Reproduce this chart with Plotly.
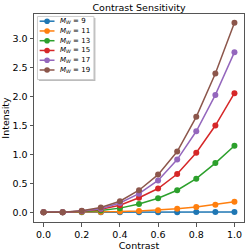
import plotly.graph_objects as go

contrast = [0.0, 0.1, 0.2, 0.3, 0.4, 0.5, 0.6, 0.7, 0.8, 0.9, 1.0]
labels = ["9", "11", "13", "15", "17", "19"]
mw9 = [0, 0, 0, 0, 0, 0, 0, 0, 0.001, 0.001, 0.002]
mw11 = [0, 0, 0.001, 0.004, 0.01, 0.02, 0.035, 0.06, 0.09, 0.13, 0.18]
mw13 = [0, 0, 0.01, 0.03, 0.07, 0.14, 0.24, 0.38, 0.58, 0.85, 1.15]
mw15 = [0, 0, 0.015, 0.05, 0.12, 0.25, 0.41, 0.66, 1.03, 1.50, 2.06]
mw17 = [0, 0, 0.02, 0.06, 0.16, 0.32, 0.55, 0.91, 1.40, 2.03, 2.77]
mw19 = [0, 0, 0.025, 0.08, 0.19, 0.38, 0.65, 1.05, 1.65, 2.40, 3.28]
series = [mw9, mw11, mw13, mw15, mw17, mw19]
colors = ["#1f77b4", "#ff7f0e", "#2ca02c", "#d62728", "#9467bd", "#8c564b"]

W, H = 249, 252
L, R, T, B = 33, 4, 14, 27
PW, PH = W - L - R, H - T - B

def px(x):
    return (x - L) / PW

def py(y):
    return (H - B - y) / PH

fig = go.Figure()
for lab, ys, c in zip(labels, series, colors):
    fig.add_trace(go.Scatter(
        x=contrast, y=ys, mode="lines+markers",
        name="M_W = " + lab,
        line=dict(color=c, width=1.5),
        marker=dict(color=c, size=6),
        showlegend=False,
    ))

# custom compact legend (matplotlib-like)
shapes = [
    dict(type="rect", xref="paper", yref="paper", x0=px(38.0), x1=px(95.0), y0=py(18.0), y1=py(82.0),
         fillcolor="#bbbbbb", line=dict(width=0), layer="above"),
    dict(type="rect", xref="paper", yref="paper", x0=px(36.5), x1=px(93.5), y0=py(16.5), y1=py(80.5),
         fillcolor="white", line=dict(color="#cccccc", width=1), layer="above"),
]
annotations = []
for i, (lab, c) in enumerate(zip(labels, colors)):
    yc = 21.3 + i * 9.9
    shapes.append(dict(type="line", xref="paper", yref="paper", x0=px(38.7), x1=px(53.7),
                       y0=py(yc), y1=py(yc), line=dict(color=c, width=1.5), layer="above"))
    shapes.append(dict(type="circle", xref="paper", yref="paper", xsizemode="pixel", ysizemode="pixel",
                       xanchor=px(46.2), yanchor=py(yc), x0=-2.8, x1=2.8, y0=-2.8, y1=2.8,
                       fillcolor=c, line=dict(width=0), layer="above"))
    annotations.append(dict(xref="paper", yref="paper", x=px(58.5), y=py(yc), xanchor="left", yanchor="middle",
                            text="<i>M</i><sub><i>W</i></sub> = " + lab, showarrow=False,
                            font=dict(size=7, color="black"), borderpad=0))

axis_common = dict(
    showline=True, linecolor="#555555", linewidth=1, mirror=True,
    ticks="outside", ticklen=3.5, tickcolor="#555555", showgrid=False, zeroline=False,
    tickfont=dict(size=9.5, color="black"),
)
fig.update_layout(
    width=W, height=H,
    margin=dict(l=L, r=R, t=T, b=B),
    paper_bgcolor="white", plot_bgcolor="white",
    font=dict(family="DejaVu Sans", color="black"),
    title=dict(text="Contrast Sensitivity", xref="paper", x=0.5, xanchor="center",
               yref="container", y=1 - 7.5 / H, yanchor="middle", font=dict(size=9.5)),
    xaxis=dict(range=[-0.05, 1.05], tickvals=[0, 0.2, 0.4, 0.6, 0.8, 1.0],
               ticktext=["0.0", "0.2", "0.4", "0.6", "0.8", "1.0"],
               title=dict(text="Contrast", font=dict(size=9.5), standoff=1), **axis_common),
    yaxis=dict(range=[-0.17, 3.43], tickvals=[0, 0.5, 1, 1.5, 2, 2.5, 3],
               ticktext=["0.0", "0.5", "1.0", "1.5", "2.0", "2.5", "3.0"],
               title=dict(text="Intensity", font=dict(size=9.5), standoff=2), **axis_common),
    shapes=shapes,
    annotations=annotations,
    showlegend=False,
)
fig.write_html("out.html", config={"displayModeBar": False},
               post_script="document.body.style.margin='0';document.body.style.overflow='hidden';")
